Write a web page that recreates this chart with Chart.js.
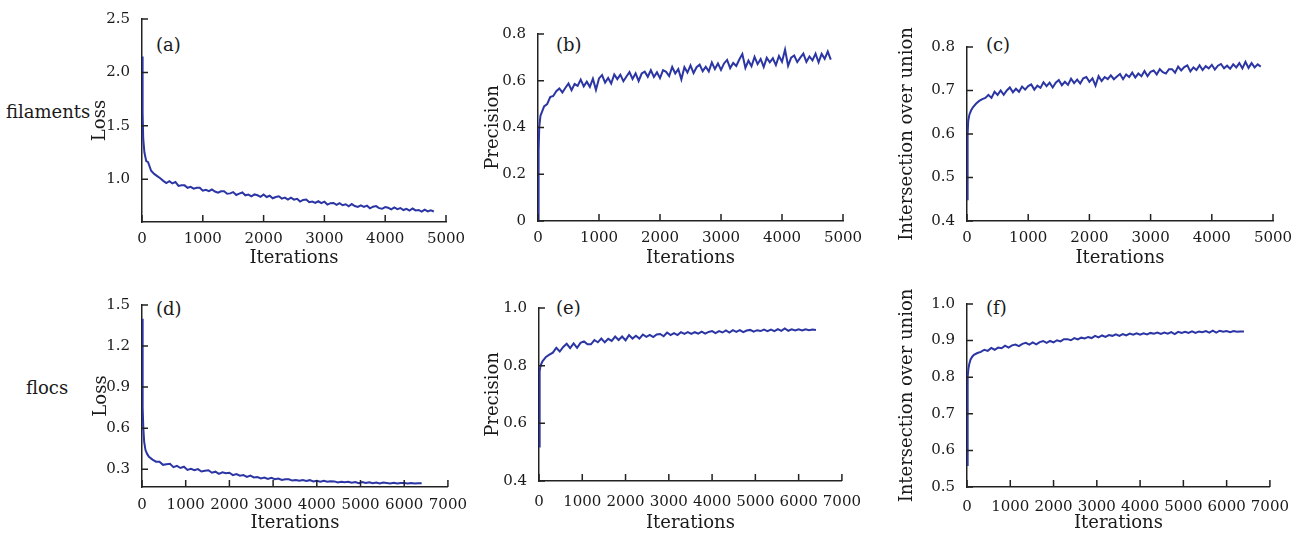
<!DOCTYPE html>
<html><head><meta charset="utf-8">
<script src="https://cdn.jsdelivr.net/npm/chart.js@4/dist/chart.umd.min.js"></script>
<style>
html,body{margin:0;padding:0;background:#fff;}
body{width:1301px;height:536px;position:relative;overflow:hidden;font-family:"DejaVu Serif",serif;color:#1a1a1a;}
canvas{position:absolute;}
.lbl{position:absolute;font-size:18px;line-height:20px;white-space:nowrap;}
</style></head><body>
<div class="lbl" style="left:6px;top:102px;">filaments</div>
<div class="lbl" style="left:26px;top:378px;">flocs</div>
<div class="lbl" style="left:156px;top:35px;">(a)</div>
<div class="lbl" style="left:556px;top:35px;">(b)</div>
<div class="lbl" style="left:986px;top:35px;">(c)</div>
<div class="lbl" style="left:156px;top:299px;">(d)</div>
<div class="lbl" style="left:556px;top:298px;">(e)</div>
<div class="lbl" style="left:986px;top:298px;">(f)</div>
<script>
// ---------- data ----------
const ITER_FIL = [0,10,20,40,70,100,150,200,250,300,
350,400,450,500,550,600,650,700,750,800,
850,900,950,1000,1050,1100,1150,1200,1250,1300,
1350,1400,1450,1500,1550,1600,1650,1700,1750,1800,
1850,1900,1950,2000,2050,2100,2150,2200,2250,2300,
2350,2400,2450,2500,2550,2600,2650,2700,2750,2800,
2850,2900,2950,3000,3050,3100,3150,3200,3250,3300,
3350,3400,3450,3500,3550,3600,3650,3700,3750,3800,
3850,3900,3950,4000,4050,4100,4150,4200,4250,4300,
4350,4400,4450,4500,4550,4600,4650,4700,4750,4800];

const LOSS_FIL = [2.15,1.62,1.38,1.25,1.17,1.16,1.08,1.05,1.03,1.01,
0.985,0.965,0.982,0.961,0.975,0.938,0.943,0.943,0.920,0.929,
0.912,0.921,0.921,0.893,0.902,0.889,0.904,0.885,0.874,0.887,
0.887,0.864,0.868,0.880,0.853,0.866,0.876,0.850,0.857,0.841,
0.858,0.850,0.835,0.858,0.834,0.846,0.822,0.834,0.841,0.819,
0.828,0.809,0.828,0.809,0.817,0.791,0.807,0.810,0.786,0.792,
0.778,0.794,0.777,0.790,0.763,0.776,0.778,0.760,0.776,0.757,
0.766,0.747,0.768,0.750,0.741,0.755,0.741,0.753,0.728,0.743,
0.749,0.730,0.724,0.740,0.733,0.719,0.736,0.721,0.731,0.712,
0.723,0.707,0.726,0.708,0.713,0.697,0.716,0.699,0.709,0.698];

const PREC_FIL = [0.0,0.30,0.40,0.45,0.47,0.49,0.50,0.53,0.535,0.555,
0.567,0.550,0.570,0.588,0.560,0.586,0.578,0.605,0.576,0.596,
0.574,0.609,0.561,0.610,0.624,0.592,0.612,0.588,0.627,0.607,
0.626,0.598,0.618,0.637,0.608,0.632,0.599,0.631,0.639,0.617,
0.645,0.616,0.636,0.611,0.645,0.638,0.620,0.659,0.631,0.650,
0.606,0.658,0.635,0.666,0.633,0.658,0.669,0.641,0.660,0.640,
0.678,0.650,0.674,0.646,0.674,0.689,0.654,0.676,0.663,0.691,
0.714,0.655,0.686,0.662,0.702,0.671,0.693,0.659,0.698,0.679,
0.696,0.667,0.706,0.681,0.733,0.664,0.699,0.708,0.680,0.699,
0.716,0.681,0.704,0.687,0.716,0.679,0.715,0.694,0.725,0.690];

const IOU_FIL = [0.45,0.60,0.63,0.645,0.655,0.662,0.67,0.676,0.68,0.683,
0.690,0.683,0.697,0.690,0.700,0.690,0.700,0.707,0.696,0.704,
0.697,0.709,0.702,0.710,0.714,0.702,0.711,0.706,0.719,0.710,
0.718,0.707,0.718,0.724,0.712,0.720,0.713,0.727,0.717,0.725,
0.716,0.728,0.731,0.720,0.728,0.711,0.733,0.722,0.731,0.726,
0.735,0.726,0.732,0.738,0.726,0.737,0.731,0.741,0.730,0.739,
0.733,0.745,0.733,0.743,0.746,0.737,0.749,0.742,0.739,0.749,
0.749,0.741,0.755,0.746,0.754,0.758,0.744,0.753,0.747,0.758,
0.747,0.756,0.751,0.759,0.748,0.757,0.761,0.751,0.757,0.750,
0.760,0.753,0.763,0.751,0.766,0.752,0.763,0.753,0.760,0.755];

const ITER_FLOC = [0,10,20,30,50,80,120,160,240,320,
400,480,560,640,720,800,880,960,1040,1120,
1200,1280,1360,1440,1520,1600,1680,1760,1840,1920,
2000,2080,2160,2240,2320,2400,2480,2560,2640,2720,
2800,2880,2960,3040,3120,3200,3280,3360,3440,3520,
3600,3680,3760,3840,3920,4000,4080,4160,4240,4320,
4400,4480,4560,4640,4720,4800,4880,4960,5040,5120,
5200,5280,5360,5440,5520,5600,5680,5760,5840,5920,
6000,6080,6160,6240,6320,6400];

const LOSS_FLOC = [1.40,1.05,0.75,0.60,0.50,0.44,0.41,0.39,0.37,0.355,
0.355,0.332,0.337,0.340,0.315,0.325,0.309,0.318,0.295,0.303,
0.293,0.301,0.283,0.289,0.292,0.274,0.282,0.266,0.277,0.270,
0.274,0.257,0.265,0.253,0.257,0.244,0.254,0.240,0.243,0.233,
0.239,0.229,0.237,0.227,0.232,0.221,0.226,0.227,0.217,0.221,
0.215,0.221,0.214,0.220,0.210,0.215,0.209,0.215,0.208,0.212,
0.211,0.203,0.209,0.204,0.209,0.202,0.206,0.198,0.206,0.200,
0.205,0.198,0.203,0.196,0.203,0.200,0.196,0.201,0.196,0.200,
0.199,0.195,0.200,0.196,0.198,0.197];

const PREC_FLOC = [0.52,0.72,0.78,0.795,0.805,0.815,0.823,0.83,0.838,0.845,
0.862,0.849,0.865,0.876,0.861,0.877,0.862,0.879,0.884,0.874,
0.874,0.889,0.881,0.894,0.881,0.893,0.886,0.901,0.889,0.901,
0.888,0.906,0.894,0.904,0.894,0.908,0.900,0.907,0.899,0.908,
0.910,0.902,0.915,0.906,0.913,0.906,0.916,0.910,0.916,0.910,
0.916,0.911,0.918,0.911,0.917,0.920,0.913,0.920,0.915,0.922,
0.915,0.923,0.917,0.923,0.916,0.922,0.924,0.918,0.923,0.920,
0.925,0.920,0.925,0.920,0.927,0.921,0.929,0.921,0.926,0.922,
0.926,0.922,0.926,0.923,0.925,0.924];

const IOU_FLOC = [0.56,0.76,0.80,0.82,0.835,0.848,0.856,0.861,0.866,0.869,
0.875,0.872,0.880,0.875,0.881,0.879,0.886,0.881,0.887,0.889,
0.885,0.891,0.894,0.889,0.895,0.890,0.896,0.899,0.894,0.899,
0.895,0.901,0.898,0.904,0.904,0.901,0.907,0.903,0.908,0.906,
0.910,0.907,0.913,0.909,0.914,0.910,0.915,0.913,0.917,0.913,
0.918,0.914,0.919,0.916,0.920,0.916,0.920,0.917,0.921,0.919,
0.922,0.918,0.922,0.919,0.923,0.918,0.924,0.921,0.924,0.921,
0.925,0.921,0.925,0.923,0.926,0.922,0.927,0.922,0.927,0.924,
0.926,0.923,0.926,0.924,0.925,0.925];

// tick labels
const XTICKS_FIL = [0,1000,2000,3000,4000,5000];
const XTICKS_FLOC = [0,1000,2000,3000,4000,5000,6000,7000];
const YTICKS_A = [1.0,1.5,2.0,2.5];
const YTICKS_B = [0,0.2,0.4,0.6,0.8];
const YTICKS_C = [0.4,0.5,0.6,0.7,0.8];
const YTICKS_D = [0.3,0.6,0.9,1.2,1.5];
const YTICKS_E = [0.4,0.6,0.8,1.0];
const YTICKS_F = [0.5,0.6,0.7,0.8,0.9,1.0];
const X_TITLE = 'Iterations';
const Y_TITLES = ['Loss','Precision','Intersection over union','Loss','Precision','Intersection over union'];

// ---------- layout ----------
const FONT = '"DejaVu Serif", serif';
const INK = '#1a1a1a';
const LINE = '#2b35a3';
const panels = [
  {xs:ITER_FIL, ys:LOSS_FIL, yt:YTICKS_A, xt:XTICKS_FIL, ymin:0.6, ymax:2.5, xmax:5000, title:Y_TITLES[0], left:90, top:6, w:376, h:263, pt:10, yw:52, xh:47, tp:0},
  {xs:ITER_FIL, ys:PREC_FIL, yt:YTICKS_B, xt:XTICKS_FIL, ymin:0, ymax:0.8, xmax:5000, title:Y_TITLES[1], left:483, top:21, w:380, h:248, pt:10, yw:55, xh:48, tp:0},
  {xs:ITER_FIL, ys:IOU_FIL, yt:YTICKS_C, xt:XTICKS_FIL, ymin:0.4, ymax:0.8, xmax:5000, title:Y_TITLES[2], left:897, top:15, w:396, h:254, pt:32, yw:70, xh:48, tp:0},
  {xs:ITER_FLOC, ys:LOSS_FLOC, yt:YTICKS_D, xt:XTICKS_FLOC, ymin:0.17, ymax:1.5, xmax:7000, title:Y_TITLES[3], left:91, top:292, w:377, h:242, pt:10, yw:51, xh:47, tp:1},
  {xs:ITER_FLOC, ys:PREC_FLOC, yt:YTICKS_E, xt:XTICKS_FLOC, ymin:0.4, ymax:1.0, xmax:7000, title:Y_TITLES[4], left:483, top:295, w:382, h:239, pt:10, yw:56, xh:53, tp:4},
  {xs:ITER_FLOC, ys:IOU_FLOC, yt:YTICKS_F, xt:XTICKS_FLOC, ymin:0.5, ymax:1.0, xmax:7000, title:Y_TITLES[5], left:897, top:278, w:395, h:256, pt:26, yw:70, xh:47, tp:3}
];

const inwardTicks = {
  id:'inwardTicks',
  afterDraw(chart){
    const {ctx, chartArea:a, scales:{x,y}} = chart;
    ctx.save();
    ctx.strokeStyle = '#222';
    ctx.lineWidth = 1.5;
    ctx.beginPath();
    x.ticks.forEach((t,i)=>{ const p = x.getPixelForTick(i); ctx.moveTo(p, a.bottom); ctx.lineTo(p, a.bottom-7); });
    y.ticks.forEach((t,i)=>{ const p = y.getPixelForTick(i); ctx.moveTo(a.left, p); ctx.lineTo(a.left+6, p); });
    ctx.stroke();
    ctx.restore();
  }
};

panels.forEach(p=>{
  const c = document.createElement('canvas');
  c.width = p.w; c.height = p.h;
  c.style.left = p.left+'px'; c.style.top = p.top+'px';
  c.style.width = p.w+'px'; c.style.height = p.h+'px';
  document.body.appendChild(c);
  new Chart(c, {
    type:'line',
    data:{datasets:[{
      data: p.xs.map((v,i)=>({x:v, y:p.ys[i]})),
      borderColor: LINE, borderWidth: 2, pointRadius: 0, tension: 0, fill:false
    }]},
    options:{
      responsive:false, animation:false, devicePixelRatio:1,
      layout:{padding:{top:p.pt, right:20, left:0, bottom:0}},
      plugins:{legend:{display:false}, tooltip:{enabled:false}},
      scales:{
        x:{
          type:'linear', min:0, max:p.xmax,
          grid:{display:false}, border:{display:true, color:'#222', width:1.5},
          afterBuildTicks:s=>{ s.ticks = p.xt.map(v=>({value:v})); },
          afterFit:s=>{ s.height = p.xh; },
          ticks:{color:INK, font:{family:FONT, size:15}, padding:p.tp, maxRotation:0, autoSkip:false,
                 callback:v=>String(v)},
          title:{display:true, text:X_TITLE, color:INK, font:{family:FONT, size:18}, padding:{top:0,bottom:0}}
        },
        y:{
          type:'linear', min:p.ymin, max:p.ymax,
          grid:{display:false}, border:{display:true, color:'#222', width:1.5},
          afterBuildTicks:s=>{ s.ticks = p.yt.map(v=>({value:v})); },
          afterFit:s=>{ s.width = p.yw; },
          ticks:{color:INK, font:{family:FONT, size:15}, padding:4, autoSkip:false,
                 callback:v=> v===0 ? '0' : v.toFixed(1)},
          title:{display:true, text:p.title, color:INK, font:{family:FONT, size:18}, padding:{top:0,bottom:0}}
        }
      }
    },
    plugins:[inwardTicks]
  });
});
</script>
</body></html>
